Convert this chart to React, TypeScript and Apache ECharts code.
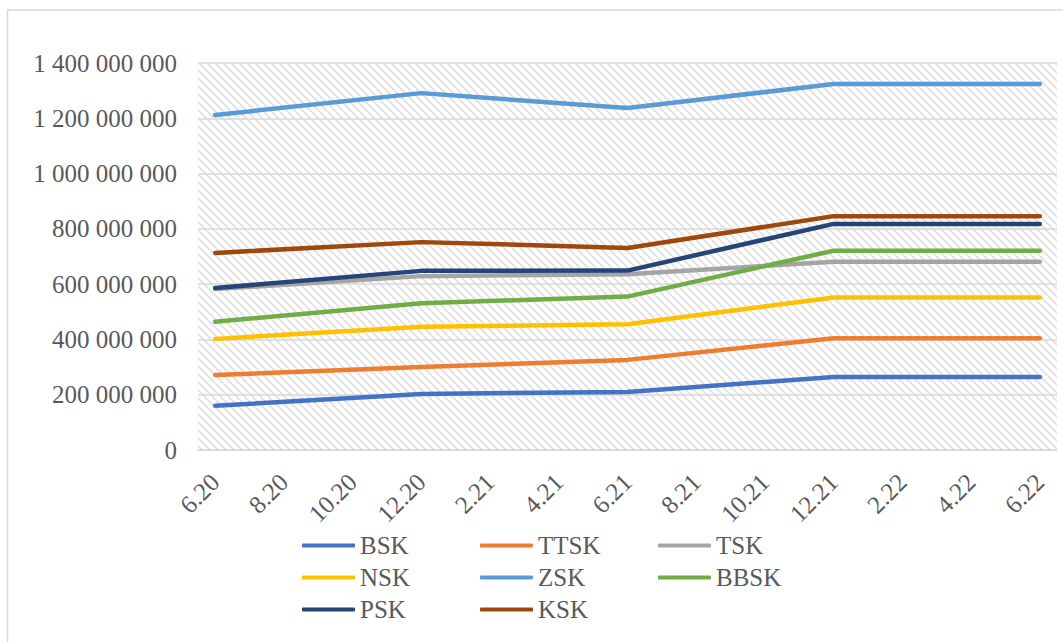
import React, { useEffect, useRef } from "react";
import * as echarts from "echarts";

// Month categories of the time axis (month.year)
const months = [
  "6.20", "7.20", "8.20", "9.20", "10.20", "11.20", "12.20",
  "1.21", "2.21", "3.21", "4.21", "5.21", "6.21", "7.21", "8.21",
  "9.21", "10.21", "11.21", "12.21", "1.22", "2.22", "3.22", "4.22",
  "5.22", "6.22",
];

// Reporting dates that carry values
const reportMonths = ["6.20", "12.20", "6.21", "12.21", "6.22"];

const seriesNames = ["BSK", "TTSK", "TSK", "NSK", "ZSK", "BBSK", "PSK", "KSK"];

const bsk = [160000000, 203000000, 210000000, 264000000, 264000000];
const ttsk = [271000000, 300000000, 326000000, 404000000, 404000000];
const tsk = [582000000, 629000000, 636000000, 681000000, 681000000];
const nsk = [402000000, 446000000, 455000000, 552000000, 552000000];
const zsk = [1212000000, 1291000000, 1237000000, 1324000000, 1324000000];
const bbsk = [464000000, 531000000, 555000000, 721000000, 721000000];
const psk = [586000000, 648000000, 649000000, 818000000, 818000000];
const ksk = [713000000, 752000000, 731000000, 846000000, 846000000];

const seriesValues = [bsk, ttsk, tsk, nsk, zsk, bbsk, psk, ksk];

const colors = [
  "#4472C4", "#ED7D31", "#A5A5A5", "#FFC000",
  "#5B9BD5", "#70AD47", "#264478", "#9E480E",
];

const yTicks = { min: 0, max: 1400000000, interval: 200000000 };

const FONT = "'Liberation Serif', 'Times New Roman', serif";
const TEXT = "#595959";
const FONT_SIZE = 25;

// Spread values over the monthly axis, leaving gaps between reporting dates
function toMonthly(values: number[]): (number | null)[] {
  const out: (number | null)[] = months.map(() => null);
  reportMonths.forEach((m, i) => {
    out[months.indexOf(m)] = values[i];
  });
  return out;
}

function formatSpaced(v: number): string {
  return String(v).replace(/\B(?=(\d{3})+(?!\d))/g, " ");
}

// Light downward-diagonal hatch used as the plot area fill
function makeHatch(): HTMLCanvasElement {
  const size = 8;
  const c = document.createElement("canvas");
  c.width = size;
  c.height = size;
  const ctx = c.getContext("2d")!;
  ctx.fillStyle = "#ffffff";
  ctx.fillRect(0, 0, size, size);
  ctx.strokeStyle = "#e4e4e4";
  ctx.lineWidth = 2.2;
  for (const o of [-size, 0, size]) {
    ctx.beginPath();
    ctx.moveTo(o, 0);
    ctx.lineTo(o + size, size);
    ctx.stroke();
  }
  return c;
}

export default function App() {
  const ref = useRef<HTMLDivElement>(null);

  useEffect(() => {
    if (!ref.current) return;
    const chart = echarts.init(ref.current, null, { renderer: "svg" });
    const hatch = makeHatch();

    chart.setOption({
      animation: false,
      backgroundColor: "#ffffff",
      graphic: [
        {
          type: "rect",
          shape: { x: 7.5, y: 10, width: 1100, height: 700 },
          style: { fill: "none", stroke: "#d9d9d9", lineWidth: 1.5 },
          silent: true,
        },
      ],
      grid: {
        left: 198,
        top: 63,
        width: 859,
        height: 387,
        show: true,
        borderWidth: 0,
        backgroundColor: {
          image: hatch,
          repeat: "repeat",
          imageWidth: 8,
          imageHeight: 8,
        } as any,
      },
      legend: {
        left: 297,
        top: 527,
        width: 545,
        itemWidth: 53,
        itemHeight: 4,
        itemGap: 5,
        icon: "roundRect",
        selectedMode: false,
        textStyle: {
          fontFamily: FONT,
          fontSize: FONT_SIZE,
          color: TEXT,
          width: 115,
          lineHeight: 27,
        },
        data: seriesNames,
      },
      xAxis: {
        type: "category",
        data: months,
        boundaryGap: true,
        axisLine: { lineStyle: { color: "#d9d9d9", width: 1.5 } },
        axisTick: {
          interval: 1,
          length: 6,
          lineStyle: { color: "#d9d9d9", width: 1.5 },
        },
        axisLabel: {
          interval: 1,
          rotate: 45,
          margin: 28,
          fontFamily: FONT,
          fontSize: FONT_SIZE,
          color: TEXT,
        },
        splitLine: { show: false },
      },
      yAxis: {
        type: "value",
        min: yTicks.min,
        max: yTicks.max,
        interval: yTicks.interval,
        axisLine: { show: false },
        axisTick: { show: false },
        axisLabel: {
          margin: 21,
          fontFamily: FONT,
          fontSize: FONT_SIZE,
          color: TEXT,
          formatter: (v: number) => formatSpaced(v),
        },
        splitLine: { lineStyle: { color: "#d9d9d9", width: 1.5 } },
      },
      series: seriesNames.map((name, i) => ({
        name,
        type: "line",
        data: toMonthly(seriesValues[i]),
        connectNulls: true,
        showSymbol: false,
        symbol: "none",
        color: colors[i],
        lineStyle: { color: colors[i], width: 4.5, cap: "round", join: "round" },
      })),
    });

    return () => chart.dispose();
  }, []);

  return (
    <div
      ref={ref}
      style={{ position: "fixed", left: 0, top: 0, width: 1063, height: 642 }}
    />
  );
}
